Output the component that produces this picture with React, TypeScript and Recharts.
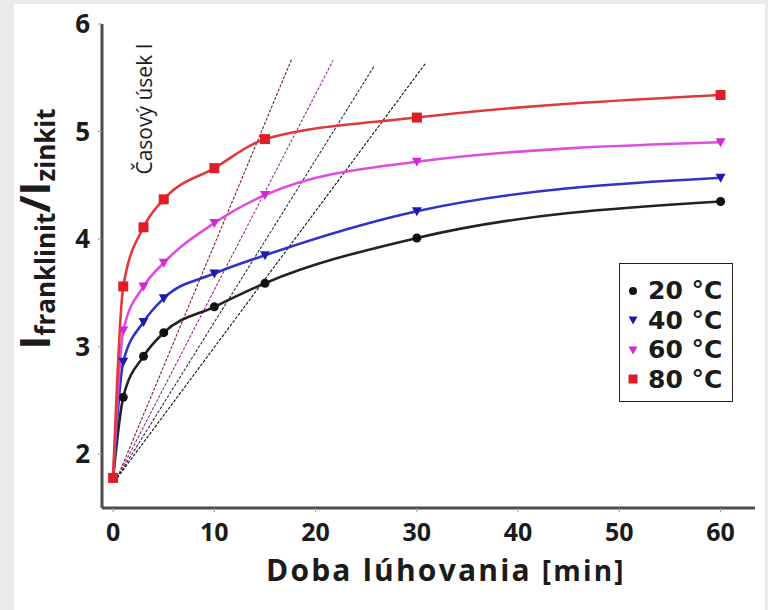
import { ComposedChart, Line, XAxis, YAxis, Legend, Label } from "recharts";

// leaching time [min]
const TIMES = [0, 1, 3, 5, 10, 15, 30, 60];
// I(franklinit)/I(zinkit) ratio per leaching temperature
const T20 = [1.78, 2.53, 2.91, 3.13, 3.37, 3.59, 4.01, 4.35];
const T40 = [1.78, 2.86, 3.23, 3.45, 3.68, 3.85, 4.26, 4.57];
const T60 = [1.78, 3.15, 3.56, 3.78, 4.15, 4.41, 4.72, 4.90];
const T80 = [1.78, 3.56, 4.11, 4.37, 4.66, 4.93, 5.13, 5.34];

// initial slopes ("Časový úsek I"), start and end points
const TAN_T = [0.4, 17.66, 0.4, 21.71, 0.4, 25.79, 0.4, 30.9];
const TAN_Y = [1.78, 5.68, 1.78, 5.66, 1.78, 5.61, 1.78, 5.64];

const X_TICKS = [0, 10, 20, 30, 40, 50, 60];
const Y_TICKS = [2, 3, 4, 5, 6];

const FONT = "'Open Sans', 'DejaVu Sans', sans-serif";
const LEGEND_FONT = "'DejaVu Sans', sans-serif";
const INK = "#1b1b1b";

const rows = TIMES.map((t, i) => ({ t, c20: T20[i], c40: T40[i], c60: T60[i], c80: T80[i] }));

const tangents = [0, 1, 2, 3].map((k) => [
  { t: TAN_T[k * 2], y: TAN_Y[k * 2] },
  { t: TAN_T[k * 2 + 1], y: TAN_Y[k * 2 + 1] },
]);
const TAN_COLORS = ["#7d1c32", "#9b2c9b", "#2e2e52", "#111111"];

const SERIES = [
  { key: "c20", name: "20 °C", line: "#222222", fill: "#111111", shape: "circle" },
  { key: "c40", name: "40 °C", line: "#3232c8", fill: "#1c1caa", shape: "tri" },
  { key: "c60", name: "60 °C", line: "#de4ede", fill: "#d426d4", shape: "tri" },
  { key: "c80", name: "80 °C", line: "#e0383c", fill: "#e01c28", shape: "square" },
];

const Marker = ({ shape, fill, cx, cy, size = 10 }: any) => {
  const h = size / 2;
  if (shape === "circle") return <circle cx={cx} cy={cy} r={h - 0.5} fill={fill} />;
  if (shape === "square")
    return <rect x={cx - h} y={cy - h} width={size} height={size} fill={fill} />;
  return (
    <polygon
      points={`${cx - h},${cy - h + 1} ${cx + h},${cy - h + 1} ${cx},${cy + h}`}
      fill={fill}
    />
  );
};

const dotFor = (shape: string, fill: string) => (props: any) => (
  <Marker key={`${shape}-${fill}-${props.index}`} shape={shape} fill={fill} cx={props.cx} cy={props.cy} />
);

const LegendBox = () => (
  <div
    style={{
      border: "1.5px solid #222",
      background: "#fff",
      width: 112,
      padding: "12px 0 7px 0",
      fontFamily: LEGEND_FONT,
      fontWeight: 700,
      fontSize: 25,
      color: INK,
    }}
  >
    {SERIES.map((s) => (
      <div key={s.key} style={{ display: "flex", alignItems: "center", height: 29.5 }}>
        <svg width={28} height={20} style={{ flex: "none" }}>
          <Marker shape={s.shape} fill={s.fill} cx={13} cy={10} size={9} />
        </svg>
        <span style={{ lineHeight: "29px", whiteSpace: "nowrap" }}>{s.name}</span>
      </div>
    ))}
  </div>
);

const YTitle = () => (
  <text
    x={50}
    y={229}
    transform="rotate(-90, 50, 229)"
    textAnchor="middle"
    fontFamily={FONT}
    fontWeight={700}
    fill={INK}
  >
    <tspan fontSize={42}>I</tspan>
    <tspan fontSize={26} dy={5}>franklinit</tspan>
    <tspan fontSize={42} dy={-5}>/I</tspan>
    <tspan fontSize={26} dy={5}>zinkit</tspan>
  </text>
);

const XTitle = () => (
  <text
    x={266}
    y={581}
    fontFamily={FONT}
    fontWeight={700}
    fill={INK}
    fontSize={30}
    letterSpacing={2.2}
  >
    Doba lúhovania <tspan fontSize={28}>[min]</tspan>
  </text>
);

export default function App() {
  return (
    <div style={{ position: "absolute", left: 0, top: 0, width: 768, height: 610, background: "#ebebeb" }}>
      <div style={{ position: "absolute", left: 14, top: 4, width: 751, height: 606, background: "#fff" }} />
      <div style={{ position: "absolute", left: 0, top: 0 }}>
        <ComposedChart
          width={768}
          height={610}
          data={rows}
          margin={{ top: 24, right: 13, bottom: 0, left: 0 }}
        >
          <XAxis
            xAxisId="top"
            orientation="top"
            type="number"
            dataKey="t"
            domain={[-1.1, 63.4]}
            allowDataOverflow
            height={0}
            tick={false}
            tickLine={false}
            axisLine={{ stroke: "#4d4d4d", strokeWidth: 3 }}
          />
          <YAxis
            yAxisId="right"
            orientation="right"
            type="number"
            domain={[1.5, 6]}
            width={0}
            tick={false}
            tickLine={false}
            axisLine={{ stroke: "#d0d0d0", strokeWidth: 1 }}
          />
          <XAxis
            type="number"
            dataKey="t"
            domain={[-1.1, 63.4]}
            allowDataOverflow
            ticks={X_TICKS}
            height={102}
            tickSize={4}
            tickMargin={11}
            tickLine={{ stroke: "#9a9a9a" }}
            axisLine={{ stroke: "#4d4d4d", strokeWidth: 3 }}
            tick={{ fill: INK, fontSize: 25, fontWeight: 700, fontFamily: FONT }}
          >
            <Label content={<XTitle />} />
          </XAxis>
          <YAxis
            type="number"
            domain={[1.5, 6]}
            allowDataOverflow
            ticks={Y_TICKS}
            width={102}
            tickSize={4}
            tickMargin={8}
            tickLine={{ stroke: "#9a9a9a" }}
            axisLine={{ stroke: "#4d4d4d", strokeWidth: 3 }}
            tick={{ fill: INK, fontSize: 26, fontWeight: 700, fontFamily: FONT }}
          >
            <Label content={<YTitle />} />
          </YAxis>

          {tangents.map((d, k) => (
            <Line
              key={`tan-${k}`}
              data={d}
              dataKey="y"
              type="linear"
              stroke={TAN_COLORS[k]}
              strokeWidth={1.1}
              strokeDasharray="3 1.5"
              dot={false}
              activeDot={false}
              legendType="none"
              isAnimationActive={false}
            />
          ))}

          {SERIES.map((s) => (
            <Line
              key={s.key}
              dataKey={s.key}
              name={s.name}
              type="monotone"
              stroke={s.line}
              strokeWidth={2.6}
              dot={dotFor(s.shape, s.fill)}
              activeDot={false}
              isAnimationActive={false}
            />
          ))}

          <text
            x={152}
            y={109}
            transform="rotate(-90, 152, 109)"
            textAnchor="middle"
            fontFamily={FONT}
            fontSize={21}
            fill={INK}
          >
            Časový úsek I
          </text>

          <Legend
            layout="vertical"
            align="center"
            verticalAlign="middle"
            content={<LegendBox />}
            wrapperStyle={{ left: 619, top: 263, width: 114, height: 140 }}
          />
        </ComposedChart>
      </div>
    </div>
  );
}
